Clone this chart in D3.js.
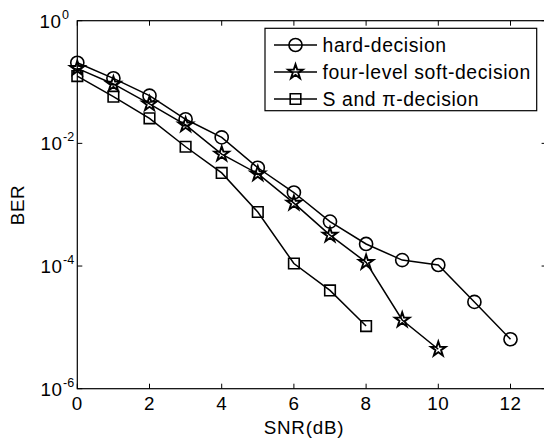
<!DOCTYPE html>
<html>
<head>
<meta charset="utf-8">
<script src="https://cdn.jsdelivr.net/npm/d3@7"></script>
<style>
  body { margin: 0; background: #fff; }
  text { font-family: "Liberation Sans", Arial, sans-serif; fill: #000; }
</style>
</head>
<body>
<svg id="grafico"></svg>
<script>
"use strict"

const snr = [0, 1, 2, 3, 4, 5, 6, 7, 8, 9, 10, 11, 12];
const hardDecision = [0.206, 0.115, 0.060, 0.0247, 0.0125, 0.0040, 0.00158, 5.3e-4, 2.29e-4, 1.25e-4, 1.04e-4, 2.6e-5, 6.4e-6];
const softDecision = [0.167, 0.093, 0.044, 0.020, 0.0067, 0.0032, 0.00106, 3.2e-4, 1.15e-4, 1.32e-5, 4.4e-6];
const piDecision = [0.125, 0.0577, 0.0256, 0.0088, 0.0033, 7.6e-4, 1.1e-4, 4.0e-5, 1.05e-5];
const seriesNames = ['hard-decision', 'four-level soft-decision', 'S and \u03c0-decision'];
const xTicks = [0, 2, 4, 6, 8, 10, 12];
const yTickExps = [0, -2, -4, -6];

function iniciar(){
  const largura = 544;
  const altura = 440;
  const svg = d3.select('#grafico').attr('width', largura).attr('height', altura);

  const x = d3.scaleLinear().domain([0, 13]).range([77.3, 546.6]);
  const y = d3.scaleLog().domain([1e-6, 1]).range([388.7, 20.7]);

  const esq = x(0), dir = x(13), topo = y(1), base = y(1e-6);
  const fonte = 18.8;

  // caixa dos eixos
  svg.append('rect')
    .attr('x', esq).attr('y', topo)
    .attr('width', dir - esq).attr('height', base - topo)
    .attr('fill', 'none').attr('stroke', '#000').attr('stroke-width', 1.2);

  // ticks eixo x (para dentro, embaixo e em cima)
  xTicks.forEach(t => {
    svg.append('line').attr('x1', x(t)).attr('x2', x(t)).attr('y1', base).attr('y2', base - 5)
      .attr('stroke', '#000');
    svg.append('line').attr('x1', x(t)).attr('x2', x(t)).attr('y1', topo).attr('y2', topo + 5)
      .attr('stroke', '#000');
    svg.append('text').attr('x', x(t)).attr('y', base + 21.5)
      .attr('text-anchor', 'middle').attr('font-size', fonte).attr('letter-spacing', 0.6).text(t);
  });

  // ticks eixo y
  yTickExps.forEach(e => {
    const yy = y(Math.pow(10, e));
    svg.append('line').attr('x1', esq).attr('x2', esq + 5).attr('y1', yy).attr('y2', yy)
      .attr('stroke', '#000');
    svg.append('line').attr('x1', dir).attr('x2', dir - 5).attr('y1', yy).attr('y2', yy)
      .attr('stroke', '#000');
    const xr = e === 0 ? 61.5 : 62.5;
    svg.append('text').attr('x', xr).attr('y', yy + 7)
      .attr('text-anchor', 'end').attr('font-size', fonte).attr('letter-spacing', 0.6).text('10');
    svg.append('text').attr('x', xr + 0.5).attr('y', yy - 2)
      .attr('font-size', 12.5).text(e);
  });

  // rotulos
  svg.append('text').attr('x', 304).attr('y', 433.5)
    .attr('text-anchor', 'middle').attr('font-size', fonte).attr('letter-spacing', 0.8).text('SNR(dB)');
  svg.append('text').attr('transform', 'translate(23.5,205) rotate(-90)')
    .attr('text-anchor', 'middle').attr('font-size', fonte).attr('letter-spacing', 0.6).text('BER');

  const estrela = d3.symbol().type(d3.symbolStar).size(66);
  const quadrado = d3.symbol().type(d3.symbolSquare).size(112);
  const circulo = d3.symbol().type(d3.symbolCircle).size(135);
  const simbolos = [circulo, estrela, quadrado];
  const dados = [hardDecision, softDecision, piDecision];

  const linha = d3.line().x(d => x(d[0])).y(d => y(d[1]));

  dados.forEach((serie, i) => {
    const pts = serie.map((v, k) => [snr[k], v]);
    svg.append('path').datum(pts).attr('d', linha)
      .attr('fill', 'none').attr('stroke', '#000').attr('stroke-width', 1.5);
    svg.selectAll('.m' + i).data(pts).enter()
      .append('path').classed('m' + i, true)
      .attr('d', simbolos[i])
      .attr('transform', d => `translate(${x(d[0])},${y(d[1])})`)
      .attr('fill', 'none').attr('stroke', '#000').attr('stroke-width', i === 1 ? 1.9 : 1.6);
  });

  // legenda
  const leg = svg.append('g');
  leg.append('rect').attr('x', 265).attr('y', 28.3).attr('width', 271.7).attr('height', 82.4)
    .attr('fill', '#fff').attr('stroke', '#000').attr('stroke-width', 1.2);
  const linhasY = [45, 72, 99];
  seriesNames.forEach((nome, i) => {
    leg.append('line').attr('x1', 274).attr('x2', 317).attr('y1', linhasY[i]).attr('y2', linhasY[i])
      .attr('stroke', '#000').attr('stroke-width', 1.5);
    leg.append('path').attr('d', simbolos[i])
      .attr('transform', `translate(295.5,${linhasY[i]})`)
      .attr('fill', 'none').attr('stroke', '#000').attr('stroke-width', i === 1 ? 1.9 : 1.6);
    leg.append('text').attr('x', 322.5).attr('y', linhasY[i] + 7)
      .attr('font-size', 19.4).attr('letter-spacing', 0.6).text(nome);
  });
}

window.addEventListener('load', iniciar, false);
</script>
</body>
</html>
